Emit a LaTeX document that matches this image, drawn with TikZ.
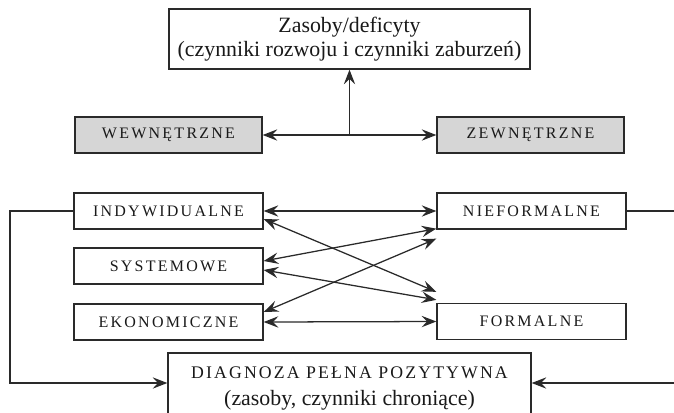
\documentclass[tikz,border=0pt]{standalone}
\usepackage{fontspec}
\setmainfont{Liberation Serif}
\usetikzlibrary{arrows.meta,calc}
\definecolor{ln}{HTML}{2A2A2A}
\definecolor{boxgray}{HTML}{D6D6D6}
\newcommand\spcaps[1]{{\fontsize{12pt}{14pt}\selectfont\addfontfeature{LetterSpace=14}#1}}
\newcommand\bigspcaps[1]{{\fontsize{13.3pt}{20pt}\selectfont\addfontfeature{LetterSpace=12}#1}}
\begin{document}
\begin{tikzpicture}[x=0.75pt,y=-0.75pt,
  box/.style={draw=ln,line width=1pt,inner sep=0pt,text=black!90,align=center},
  rowbox/.style={box,minimum width=141.75pt,minimum height=27pt},
  graybox/.style={rowbox,fill=boxgray,minimum width=140.25pt},
  conn/.style={draw=ln,line width=0.95pt},
  tip/.style={-{Stealth[length=11pt,width=8.5pt,inset=4pt]}},
  dtip/.style={{Stealth[length=11pt,width=8.5pt,inset=4pt]}-{Stealth[length=11pt,width=8.5pt,inset=4pt]}}]
\useasboundingbox (0,0) rectangle (674,412);
\clip (0,0) rectangle (674,412);
\node[box,minimum width=270.75pt,minimum height=45pt,font=\fontsize{16.4pt}{17.5pt}\selectfont] (top) at (349.5,39) {Zasoby/deficyty\\(czynniki rozwoju i czynniki zaburzeń)};
\node[graybox] (wew) at (168.5,135) {\spcaps{WEWNĘTRZNE}};
\node[graybox] (zew) at (530.5,135) {\spcaps{ZEWNĘTRZNE}};
\node[rowbox] (ind) at (168.5,211) {\spcaps{INDYWIDUALNE}};
\node[rowbox] (sys) at (168.5,266) {\spcaps{SYSTEMOWE}};
\node[rowbox] (eko) at (168.5,322) {\spcaps{EKONOMICZNE}};
\node[rowbox] (nief) at (531.5,211) {\spcaps{NIEFORMALNE}};
\node[rowbox] (form) at (531.5,321.5) {\spcaps{FORMALNE}};
\node[box,minimum width=272.25pt,minimum height=53.25pt,font=\fontsize{16.4pt}{20pt}\selectfont] (diag) at (349.5,388.5) {\bigspcaps{DIAGNOZA PEŁNA POZYTYWNA}\\(zasoby, czynniki chroniące)};
% top connectors
\draw[conn,dtip] (wew) -- (zew);
\coordinate (j) at ($(wew.east)!0.5!(zew.west)$);
\draw[conn,tip] (j) -- (top.south);
% cross connectors
\draw[conn,dtip] (ind.east) -- (nief.west);
\draw[conn,dtip] ($(ind.east)+(0,8)$) -- ($(form.north west)+(0,-11)$);
\draw[conn,dtip] ($(sys.east)+(0,-5)$) -- ($(nief.south west)+(0,-1)$);
\draw[conn,dtip] ($(sys.east)+(0,4)$) -- ($(form.north west)+(0,-3)$);
\draw[conn,dtip] ($(eko.east)+(0,-10)$) -- ($(nief.south west)+(0,9)$);
\draw[conn,dtip] (eko.east) -- (form.west);
% loops
\coordinate (lb) at (10,211);
\coordinate (lb2) at (10,383);
\draw[conn,tip] (ind.west) -- (lb) -- (lb2) -- (lb2 -| diag.west);
\coordinate (r1) at (680,211);
\coordinate (r2) at (680,383);
\draw[conn] (nief.east) -- (r1);
\draw[conn,tip] (r2) -- (r2 -| diag.east);
\end{tikzpicture}
\end{document}
